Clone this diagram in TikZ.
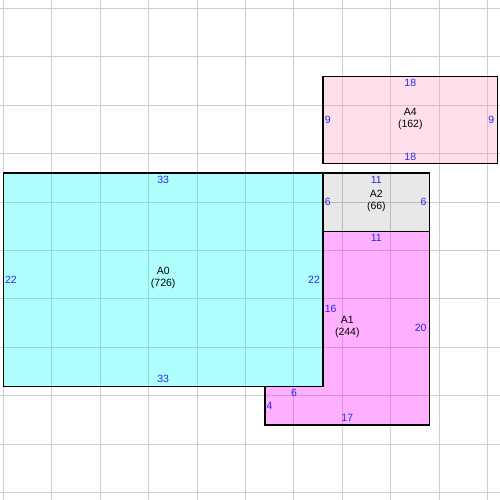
\documentclass[tikz,border=0pt]{standalone}
\usepackage{fontspec}
\setmainfont{Liberation Sans}
\definecolor{dimblue}{RGB}{40,40,235}
\definecolor{gridgray}{RGB}{206,206,206}
\definecolor{pinkish}{RGB}{255,150,190}
\definecolor{cyanrgb}{RGB}{0,255,255}
\definecolor{magentargb}{RGB}{255,0,255}
\begin{document}
\begin{tikzpicture}[x=9.69pt,y=-9.69pt,
  gridline/.style={draw=gridgray, line width=1pt},
  border/.style={draw=black, line width=1.2pt},
  dim/.style={text=dimblue, font=\fontsize{10.5}{12}\selectfont, inner sep=0pt},
  areaname/.style={font=\fontsize{10.5}{11.5}\selectfont, align=center, inner sep=0pt}]
\useasboundingbox (-0.3406,-0.8566) rectangle (51.26,50.74);
% grid
\foreach \i in {0,5,...,50} {
  \draw[gridline] (\i,-0.8566) -- (\i,50.74);
  \draw[gridline] (-0.3406,\i) -- (51.26,\i);
}
% fills
\fill[cyanrgb, fill opacity=0.31] (0,17) rectangle (33,39);
\fill[black, fill opacity=0.09] (33,17) rectangle (44,23);
\fill[magentargb, fill opacity=0.31] (33,23) -- (44,23) -- (44,43) -- (27,43) -- (27,39) -- (33,39) -- cycle;
\fill[pinkish, fill opacity=0.3] (33,7) rectangle (51,16);
% borders
\draw[border] (0,17) rectangle (33,39);
\draw[border] (33,17) rectangle (44,23);
\draw[border] (33,23) -- (44,23) -- (44,43) -- (27,43) -- (27,39) -- (33,39) -- cycle;
\draw[border] (33,7) rectangle (51,16);
% A0 labels
\node[dim, anchor=north] (a0t) at (16.5,17.28) {33};
\node[dim, anchor=south] (a0b) at (16.5,38.69) {33};
\node[dim, anchor=west] (a0l) at (0.155,28) {22};
\node[dim, anchor=east] (a0r) at (32.69,28) {22};
\node[areaname] (a0) at (16.5,27.8) {A0\\(726)};
% A2 labels
\node[dim, anchor=north] (a2t) at (38.5,17.28) {11};
\node[dim, anchor=west] (a2l) at (33.155,20) {6};
\node[dim, anchor=east] (a2r) at (43.69,20) {6};
\node[areaname] (a2) at (38.5,19.9) {A2\\(66)};
% A1 labels
\node[dim, anchor=north] (a1t) at (38.5,23.28) {11};
\node[dim, anchor=west] (a1l) at (33.155,31) {16};
\node[dim, anchor=east] (a1r) at (43.69,33) {20};
\node[dim, anchor=south] (a1b) at (35.5,42.69) {17};
\node[dim, anchor=north] (a1s) at (30,39.28) {6};
\node[dim, anchor=west] (a1f) at (27.155,41) {4};
\node[areaname] (a1) at (35.5,32.9) {A1\\(244)};
% A4 labels
\node[dim, anchor=north] (a4t) at (42,7.28) {18};
\node[dim, anchor=south] (a4b) at (42,15.69) {18};
\node[dim, anchor=west] (a4l) at (33.155,11.5) {9};
\node[dim, anchor=east] (a4r) at (50.69,11.5) {9};
\node[areaname] (a4) at (42,11.4) {A4\\(162)};
\end{tikzpicture}
\end{document}
